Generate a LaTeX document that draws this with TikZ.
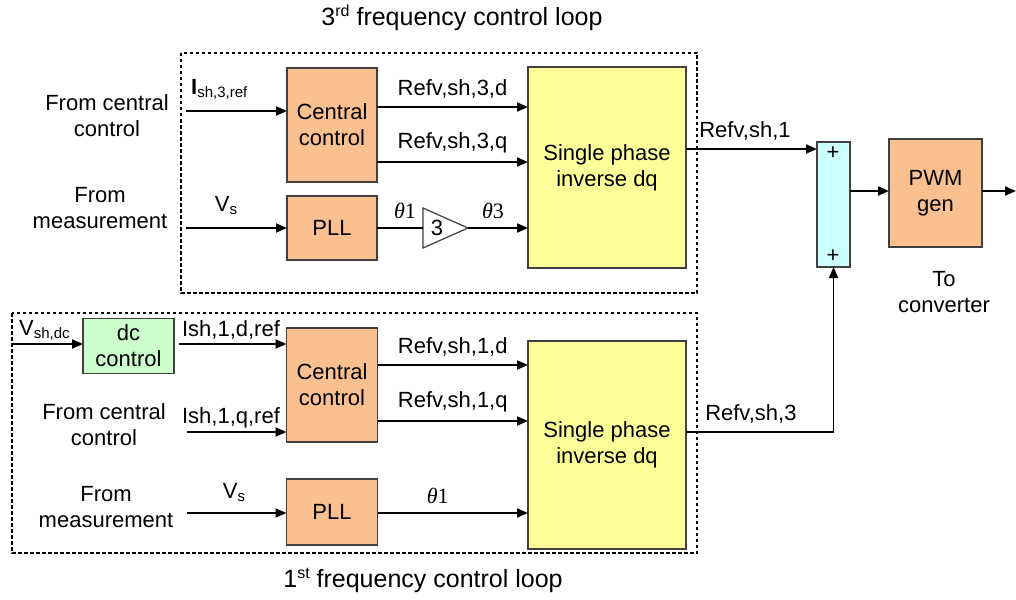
\documentclass[tikz,border=0pt]{standalone}
\usepackage{fontspec}
\setmainfont{Liberation Sans}
\newfontfamily\grkfont{Liberation Serif}
\usetikzlibrary{arrows.meta}

\definecolor{orfill}{HTML}{FAC090}
\definecolor{yefill}{HTML}{FFFF99}
\definecolor{grfill}{HTML}{CCFFCC}
\definecolor{cyfill}{HTML}{CCFFFF}
\definecolor{edge}{HTML}{404040}

\newcommand{\mainfs}{\fontsize{22}{26}\selectfont}
\newcommand{\titlefs}{\fontsize{25}{29}\selectfont}
\newcommand{\lowtxt}[1]{\raisebox{-3pt}{\fontsize{15}{15}\selectfont #1}}
\newcommand{\hightxt}[1]{\raisebox{9pt}{\fontsize{16}{16}\selectfont #1}}
\newcommand{\thetaof}[1]{{\grkfont\itshape θ}{\grkfont #1}}

\begin{document}
\begin{tikzpicture}[x=1pt,y=-1pt,
  blk/.style={draw=edge, line width=1.2pt, inner sep=0pt, outer sep=0pt,
    align=center, font=\mainfs},
  orblk/.style={blk, fill=orfill},
  txt/.style={inner sep=0pt, align=center, font=\mainfs},
  conn/.style={-{Triangle[length=11pt,width=9pt]}, line width=1.8pt},
  wire/.style={line width=1.8pt},
  loopbox/.style={dash pattern=on 3.5pt off 2.5pt, line width=1.5pt}]
\useasboundingbox (0,0) rectangle (1016,599);

% ---------- dashed loop frames ----------
\draw[loopbox] (181,53) rectangle (697,293);
\draw[loopbox] (12,313) rectangle (697,553);
\node[txt, font=\titlefs] (t3) at (462,18) {3\hightxt{rd} frequency control loop};
\node[txt, font=\titlefs] (t1) at (423,580) {1\hightxt{st} frequency control loop};

% ---------- 3rd frequency loop ----------
\node[orblk, minimum width=90, minimum height=114] (cc3) at (332,125) {Central\\control};
\node[orblk, minimum width=90, minimum height=64] (pll3) at (332,228) {PLL};
\node[blk, fill=yefill, minimum width=158, minimum height=201] (inv3) at (607,167.5) {Single phase\\inverse dq};

\node[txt] (src3a) at (107,116) {From central\\control};
\node[txt] (src3b) at (100,208) {From\\measurement};

\coordinate (i3) at (186,111);
\coordinate (v3) at (186,228);
\coordinate (r3d) at (0,107);
\coordinate (r3q) at (0,162);
\node[txt, anchor=base west] (li3) at (191,95) {\textbf{I}\lowtxt{sh,3,ref}};
\node[txt] (lv3) at (226,206) {V\lowtxt{s}};
\draw[conn] (i3) -- (i3 -| cc3.west);
\draw[conn] (v3) -- (pll3.west);
\draw[conn] (cc3.east |- r3d) -- (inv3.west |- r3d) node[txt, midway, above=8pt] (lr3d) {Refv,sh,3,d};
\draw[conn] (cc3.east |- r3q) -- (inv3.west |- r3q) node[txt, midway, above=8pt] (lr3q) {Refv,sh,3,q};

% gain of 3 on the angle
\coordinate (gL) at (423,228);
\coordinate (gR) at (468,228);
\draw[line width=1.2pt, edge, fill=white] (423,208) -- (468,228) -- (423,248) -- cycle;
\node[txt] (gain) at (437,228) {3};
\draw[wire] (pll3.east) -- (gL);
\draw[conn] (gR) -- (inv3.west |- gR);
\node[txt] (th1a) at (405,211) {\thetaof{1}};
\node[txt] (th3) at (493,211) {\thetaof{3}};

% ---------- summation and PWM ----------
\node[blk, fill=cyfill, minimum width=33, minimum height=125] (sum) at (833.5,204.5) {};
\node[txt] (pa) at (833,153) {+};
\node[txt] (pb) at (833,256) {+};
\node[orblk, minimum width=93, minimum height=108] (pwm) at (935.5,193) {PWM\\gen};
\node[txt] (toc) at (944,292) {To\\converter};
\coordinate (r1) at (0,149);
\coordinate (outp) at (1016,191);
\draw[conn] (inv3.east |- r1) -- (sum.west |- r1) node[txt, pos=0.45, above=8pt] (lr1) {Refv,sh,1};
\draw[conn] (sum.east |- outp) -- (pwm.west |- outp);
\draw[conn] (pwm.east |- outp) -- (outp);

% ---------- 1st frequency loop ----------
\node[blk, fill=grfill, minimum width=91, minimum height=55] (dc) at (128.5,346) {dc\\control};
\node[orblk, minimum width=91, minimum height=114] (cc1) at (332,385) {Central\\control};
\node[orblk, minimum width=91, minimum height=66] (pll1) at (332,512) {PLL};
\node[blk, fill=yefill, minimum width=158, minimum height=208] (inv1) at (607,445) {Single phase\\inverse dq};

\node[txt] (src1a) at (104,425) {From central\\control};
\node[txt] (src1b) at (106,507) {From\\measurement};

\coordinate (vdc) at (12,344);
\coordinate (iq1) at (187,432);
\coordinate (v1) at (187,513);
\coordinate (r1d) at (0,365);
\coordinate (r1q) at (0,421);
\node[txt, anchor=base west] (lvdc) at (19,335) {V\lowtxt{sh,dc}};
\draw[conn] (vdc) -- (dc.west |- vdc);
\draw[conn] (dc.east |- vdc) ++(5,0) coordinate (d1) -- (cc1.west |- vdc);
\node[txt] (lid) at (231,330) {Ish,1,d,ref};
\node[txt] (liq) at (231,418) {Ish,1,q,ref};
\draw[conn] (iq1) -- (cc1.west |- iq1);
\node[txt] (lv1) at (234,492) {V\lowtxt{s}};
\draw[conn] (v1) -- (pll1.west |- v1);
\draw[conn] (cc1.east |- r1d) -- (inv1.west |- r1d) node[txt, midway, above=8pt] (lr1d) {Refv,sh,1,d};
\draw[conn] (cc1.east |- r1q) -- (inv1.west |- r1q) node[txt, midway, above=8pt] (lr1q) {Refv,sh,1,q};
\draw[conn] (pll1.east |- v1) -- (inv1.west |- v1) node[txt, pos=0.4, above=8pt] (th1b) {\thetaof{1}};

% third-harmonic reference into the lower summing input
\coordinate (r3) at (0,432);
\draw[conn] (inv1.east |- r3) -| (sum.south) node[txt, pos=0.22, above=8pt] (lr3) {Refv,sh,3};
\end{tikzpicture}
\end{document}
